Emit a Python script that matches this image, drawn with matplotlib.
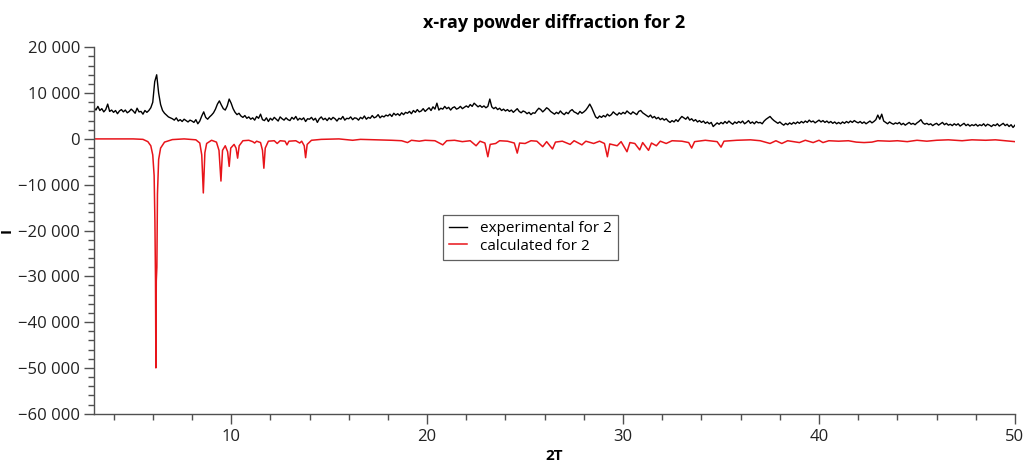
"""
Powder diffraction pattern for compound 2: measured trace on top,
calculated pattern drawn downward below the zero line.
"""

import numpy as np
import matplotlib
matplotlib.use("Agg")
import matplotlib.pyplot as plt
from matplotlib.ticker import MultipleLocator, FuncFormatter

# experimental intensity, sampled every 0.1 deg starting at 3.0 (one row per degree)
exp_start = 3.0
exp_step = 0.1
exp_rows = [
    [6800, 6300, 7100, 6200, 6600, 5900, 6400, 7600, 6000, 6300],   # 3
    [5800, 6200, 5500, 6100, 6400, 5900, 6300, 5700, 6000, 6500],   # 4
    [6100, 5600, 6700, 5900, 6000, 5400, 6200, 5800, 6200, 6800],   # 5
    [8000, 12500, 14000, 10000, 7500, 6200, 5600, 5200, 4800, 4600],  # 6
    [4400, 4100, 4600, 3900, 4200, 3800, 4300, 4000, 3700, 4100],   # 7
    [3900, 3600, 4200, 3300, 3900, 5000, 5900, 4700, 4300, 4800],   # 8
    [5200, 5700, 6500, 7600, 8300, 7400, 6600, 6300, 7200, 8700],   # 9
    [7800, 6600, 5800, 5300, 5600, 5000, 4700, 5100, 4500, 4800],   # 10
    [4300, 4600, 4100, 4900, 4500, 5400, 4200, 4000, 4600, 3800],   # 11
    [4500, 4100, 4700, 4300, 3900, 4800, 4400, 4100, 4600, 4200],   # 12
    [4000, 4700, 4300, 4900, 4100, 4500, 4200, 4600, 3800, 4400],   # 13
    [4300, 4700, 4100, 4500, 3600, 4400, 4800, 4200, 4500, 4000],   # 14
    [4600, 4200, 4700, 4400, 3900, 4500, 4300, 4900, 4100, 4500],   # 15
    [4400, 4800, 4200, 4600, 4500, 4100, 4700, 4400, 5000, 4300],   # 16
    [4700, 4500, 5100, 4600, 4800, 5300, 4600, 5000, 4800, 5200],   # 17
    [5000, 5400, 4900, 5600, 5200, 5500, 5100, 5700, 5300, 5800],   # 18
    [5600, 6000, 5500, 6200, 5800, 6400, 5900, 6100, 6600, 6000],   # 19
    [6400, 6800, 6200, 7000, 6500, 7800, 6300, 6700, 6500, 7100],   # 20
    [6600, 6900, 6300, 6800, 7000, 6500, 6700, 7100, 6600, 6900],   # 21
    [7200, 6900, 7500, 7100, 7800, 7400, 7000, 7300, 6900, 7200],   # 22
    [6800, 7100, 8700, 7000, 6600, 6900, 6400, 6700, 6200, 6500],   # 23
    [6100, 6400, 6000, 6300, 5800, 6200, 6600, 6000, 5700, 6100],   # 24
    [5900, 5500, 5800, 5300, 5700, 5600, 6200, 6700, 6400, 5900],   # 25
    [6300, 6800, 6500, 6000, 5700, 5400, 5800, 5500, 6100, 5600],   # 26
    [5300, 5800, 5500, 6100, 6400, 5900, 5700, 5400, 6000, 5600],   # 27
    [5900, 6300, 6900, 7600, 6800, 5800, 4800, 4500, 5000, 4700],   # 28
    [5100, 4800, 5400, 5000, 5300, 5900, 5500, 5200, 5700, 5400],   # 29
    [5800, 5500, 6100, 5700, 5400, 5900, 5600, 5300, 6000, 6200],   # 30
    [5700, 5400, 5100, 4800, 5200, 4600, 4900, 4400, 4700, 4200],   # 31
    [4500, 4100, 4400, 3900, 3600, 4000, 3700, 4200, 3800, 4400],   # 32
    [4900, 4600, 4300, 4800, 4100, 4400, 3900, 4200, 3700, 4000],   # 33
    [3600, 3900, 3400, 3700, 3300, 3600, 2700, 3100, 3500, 3200],   # 34
    [3600, 3300, 3800, 3400, 3900, 3500, 3200, 3700, 3400, 3800],   # 35
    [3500, 3900, 3300, 3600, 4000, 3400, 3700, 3300, 3800, 3500],   # 36
    [3600, 3300, 3900, 4300, 4600, 4900, 4400, 4000, 3700, 3400],   # 37
    [3700, 3300, 3000, 3400, 3100, 3500, 3200, 3600, 3300, 3700],   # 38
    [3400, 3800, 3500, 3900, 3600, 4100, 3700, 3900, 3500, 3800],   # 39
    [4100, 3700, 4000, 3600, 3900, 3500, 3800, 3400, 3700, 3300],   # 40
    [3600, 3300, 3700, 3400, 3800, 3500, 3900, 3600, 4000, 3700],   # 41
    [3500, 3800, 3400, 3700, 3300, 3600, 3900, 3500, 3800, 4200],   # 42
    [5200, 4300, 5400, 3900, 3600, 3300, 3700, 3400, 3200, 3500],   # 43
    [3300, 3600, 3100, 3400, 3000, 3300, 3600, 3200, 3400, 3100],   # 44
    [3500, 3800, 4200, 3500, 3200, 3400, 3100, 3300, 2900, 3200],   # 45
    [3400, 3000, 3300, 3600, 3100, 3400, 3000, 3200, 2900, 3300],   # 46
    [3000, 3300, 2800, 3100, 3400, 2900, 3200, 2800, 3100, 2900],   # 47
    [3200, 2800, 3100, 2900, 3300, 2800, 3200, 3000, 2700, 3100],   # 48
    [2900, 3300, 2800, 3100, 3400, 2900, 3200, 2700, 3100, 2500],   # 49
    [3000],                                                         # 50
]

# calculated pattern (plotted negative), read point by point
calc_x = [3.0, 5.0, 5.5, 5.75, 5.9, 6.0, 6.07, 6.11, 6.14, 6.16, 6.18, 6.21, 6.24,
          6.3, 6.4, 6.6, 7.0, 7.6, 8.2, 8.4, 8.5, 8.58, 8.66, 8.75, 9.0, 9.25, 9.38,
          9.48, 9.56, 9.7, 9.82, 9.9, 9.98, 10.15, 10.25, 10.33, 10.41, 10.6, 10.9,
          11.1, 11.2, 11.3, 11.5, 11.6, 11.67, 11.74, 11.9, 12.2, 12.35, 12.5, 12.75,
          12.85, 12.95, 13.3, 13.5, 13.6, 13.73, 13.8, 13.88, 14.1, 14.6, 15.5, 16.2,
          16.6, 17.5, 18.2, 18.7, 19.0, 19.2, 19.6, 19.9, 20.4, 20.8, 21.0, 21.4, 21.8,
          22.2, 22.5, 22.7, 22.95, 23.1, 23.22, 23.5, 23.7, 24.1, 24.45, 24.6, 24.72,
          25.0, 25.3, 25.6, 25.9, 26.1, 26.4, 26.55, 26.9, 27.3, 27.5, 27.9, 28.1, 28.5,
          28.8, 29.05, 29.2, 29.32, 29.7, 29.9, 30.2, 30.35, 30.6, 30.85, 31.0, 31.3,
          31.45, 31.7, 31.9, 32.2, 32.5, 33.0, 33.35, 33.5, 33.65, 34.2, 34.8, 35.0,
          35.15, 35.8, 36.5, 37.0, 37.5, 37.8, 38.1, 38.4, 39.0, 39.3, 39.7, 40.0, 40.2,
          40.5, 41.0, 41.5, 41.9, 42.3, 42.7, 43.0, 43.6, 44.0, 44.5, 45.0, 45.5, 46.0,
          46.6, 47.3, 47.8, 48.5, 49.0, 49.5, 50.0]
calc_y = [0, 0, -100, -600, -1500, -3500, -8000, -18000, -31000, -50000, -31000, -28000, -12000,
          -4500, -2000, -700, -150, 0, -200, -900, -3500, -11800, -3000, -1000, -300, -700, -2500,
          -9200, -2500, -1500, -2800, -6000, -2000, -1200, -2000, -4200, -1500, -400, -300,
          -600, -900, -500, -800, -2500, -6400, -2000, -500, -400, -1000, -400, -500,
          -1300, -500, -400, -900, -500, -1500, -4100, -1200, -300, -100, 0, -300,
          -100, -200, -300, -400, -800, -300, -500, -300, -400, -1300, -400, -300, -600,
          -400, -1500, -500, -900, -3900, -1200, -1000, -400, -500, -900, -3100, -900,
          -1000, -400, -500, -1700, -600, -2200, -700, -500, -1200, -400, -1300, -500, -1000,
          -500, -1000, -3900, -1100, -1500, -600, -2800, -800, -1000, -2400, -800, -2500,
          -900, -1500, -500, -1000, -400, -500, -800, -2000, -600, -300, -600, -1800,
          -500, -300, -200, -400, -1000, -400, -1000, -400, -800, -300, -800, -300, -800,
          -400, -500, -400, -700, -800, -700, -400, -500, -400, -600, -300, -500, -300,
          -200, -400, -200, -300, -200, -400, -600]

title = "x-ray powder diffraction for 2"
labels = ["experimental for 2", "calculated for 2"]

exp_y = np.array([v for row in exp_rows for v in row], dtype=float)
exp_x = exp_start + exp_step * np.arange(len(exp_y))

plt.rcParams["font.family"] = ["Open Sans", "DejaVu Sans"]
axis_col = "#505050"

fig = plt.figure(figsize=(10.27, 4.66), dpi=100)
ax = fig.add_axes([0.0915, 0.1122, 0.8968, 0.7863])

ax.plot(exp_x, exp_y, color="black", lw=1.0, label=labels[0])
ax.plot(calc_x, calc_y, color="#e8141a", lw=1.1, label=labels[1])

ax.set_xlim(3, 50)
ax.set_ylim(-60000, 20000)

ax.xaxis.set_major_locator(MultipleLocator(10))
ax.xaxis.set_minor_locator(MultipleLocator(2))
ax.yaxis.set_major_locator(MultipleLocator(10000))
ax.yaxis.set_minor_locator(MultipleLocator(2000))


def fmt_thousands(v, pos):
    s = "{:,.0f}".format(abs(v)).replace(",", " ")
    return ("\u2212" + s) if v < 0 else s


ax.yaxis.set_major_formatter(FuncFormatter(fmt_thousands))

for side in ("top", "right"):
    ax.spines[side].set_visible(False)
for side in ("left", "bottom"):
    ax.spines[side].set_color(axis_col)
    ax.spines[side].set_linewidth(1.0)

ax.tick_params(which="major", length=7, width=1, color=axis_col,
               labelsize=12, labelcolor="#222222")
ax.tick_params(which="minor", length=4, width=1, color=axis_col)
ax.tick_params(axis="x", which="major", pad=4)
ax.tick_params(axis="y", which="major", pad=3)

ax.set_title(title, fontsize=13, fontweight="bold", pad=14)
ax.set_xlabel("2T", fontsize=11, fontweight="bold", labelpad=3)
ax.set_ylabel("I", fontsize=11, fontweight="bold")
ax.yaxis.set_label_coords(-0.087, 0.5)

leg = ax.legend(loc="upper left", bbox_to_anchor=(0.379, 0.542), fontsize=11,
                fancybox=False, framealpha=1, edgecolor="#606060",
                handlelength=1.2, handletextpad=0.8, borderpad=0.4,
                labelspacing=0.15, borderaxespad=0)
leg.get_frame().set_linewidth(0.9)

fig.savefig("out.png", dpi=100)
